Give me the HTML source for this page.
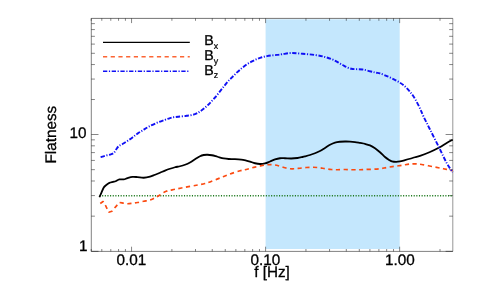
<!DOCTYPE html>
<html><head><meta charset="utf-8"><style>
html,body{margin:0;padding:0;background:#fff;}
svg{display:block;will-change:transform;}
text{font-family:"Liberation Sans",sans-serif;fill:#000;text-rendering:geometricPrecision;stroke:#000;stroke-width:0.3px;stroke-linejoin:round;}
</style></head><body>
<svg width="480" height="288" viewBox="0 0 480 288">
<rect width="480" height="288" fill="#fff"/>
<rect x="265.6" y="19.3" width="134.10" height="229.70" fill="#c4e7fd"/>
<path d="M91.3 18.4 H452.8" stroke="#000" stroke-width="0.55"/><path d="M91.3 251.4 H452.8" stroke="#000" stroke-width="0.5"/><path d="M91.3 18.4 V251.4" stroke="#000" stroke-width="0.5"/><path d="M452.8 18.4 V251.4" stroke="#000" stroke-width="0.42"/>
<path d="M91.20 251.40 v-2.40 M91.20 18.40 v2.40 M101.81 251.40 v-2.40 M101.81 18.40 v2.40 M110.79 251.40 v-2.40 M110.79 18.40 v2.40 M118.56 251.40 v-2.40 M118.56 18.40 v2.40 M125.42 251.40 v-2.40 M125.42 18.40 v2.40 M131.55 251.40 v-4.70 M131.55 18.40 v4.70 M171.90 251.40 v-2.40 M171.90 18.40 v2.40 M195.51 251.40 v-2.40 M195.51 18.40 v2.40 M212.26 251.40 v-2.40 M212.26 18.40 v2.40 M225.25 251.40 v-2.40 M225.25 18.40 v2.40 M235.86 251.40 v-2.40 M235.86 18.40 v2.40 M244.84 251.40 v-2.40 M244.84 18.40 v2.40 M252.61 251.40 v-2.40 M252.61 18.40 v2.40 M259.47 251.40 v-2.40 M259.47 18.40 v2.40 M265.60 251.40 v-4.70 M265.60 18.40 v4.70 M305.95 251.40 v-2.40 M305.95 18.40 v2.40 M329.56 251.40 v-2.40 M329.56 18.40 v2.40 M346.31 251.40 v-2.40 M346.31 18.40 v2.40 M359.30 251.40 v-2.40 M359.30 18.40 v2.40 M369.91 251.40 v-2.40 M369.91 18.40 v2.40 M378.89 251.40 v-2.40 M378.89 18.40 v2.40 M386.66 251.40 v-2.40 M386.66 18.40 v2.40 M393.52 251.40 v-2.40 M393.52 18.40 v2.40 M399.65 251.40 v-4.70 M399.65 18.40 v4.70 M440.00 251.40 v-2.40 M440.00 18.40 v2.40 M91.30 251.33 h7.20 M452.80 251.33 h-7.20 M91.30 216.16 h3.60 M452.80 216.16 h-3.60 M91.30 195.59 h3.60 M452.80 195.59 h-3.60 M91.30 180.99 h3.60 M452.80 180.99 h-3.60 M91.30 169.67 h3.60 M452.80 169.67 h-3.60 M91.30 160.42 h3.60 M452.80 160.42 h-3.60 M91.30 152.60 h3.60 M452.80 152.60 h-3.60 M91.30 145.82 h3.60 M452.80 145.82 h-3.60 M91.30 139.85 h3.60 M452.80 139.85 h-3.60 M91.30 134.50 h7.20 M452.80 134.50 h-7.20 M91.30 99.53 h3.60 M452.80 99.53 h-3.60 M91.30 79.07 h3.60 M452.80 79.07 h-3.60 M91.30 64.56 h3.60 M452.80 64.56 h-3.60 M91.30 53.30 h3.60 M452.80 53.30 h-3.60 M91.30 44.10 h3.60 M452.80 44.10 h-3.60 M91.30 36.32 h3.60 M452.80 36.32 h-3.60 M91.30 29.59 h3.60 M452.80 29.59 h-3.60 M91.30 23.65 h3.60 M452.80 23.65 h-3.60" fill="none" stroke="#000" stroke-width="0.48"/>
<path d="M99.5 195.7 H452.8" fill="none" stroke="#1c781c" stroke-width="1.6" stroke-dasharray="1.1 1.54"/>
<path d="M99.40 197.25 C99.71 196.56 100.53 194.72 101.25 193.10 C101.97 191.47 102.92 188.85 103.75 187.50 C104.58 186.15 105.31 185.77 106.25 185.00 C107.19 184.23 108.26 183.42 109.40 182.90 C110.54 182.38 112.07 182.18 113.10 181.90 C114.13 181.62 114.55 181.67 115.60 181.25 C116.65 180.83 118.04 179.71 119.40 179.40 C120.76 179.09 122.40 179.62 123.75 179.40 C125.10 179.18 126.04 178.52 127.50 178.10 C128.96 177.68 130.83 177.07 132.50 176.90 C134.17 176.73 135.62 176.96 137.50 177.10 C139.38 177.24 141.67 177.82 143.75 177.75 C145.83 177.68 148.12 177.20 150.00 176.70 C151.88 176.20 153.33 175.41 155.00 174.75 C156.67 174.09 158.33 173.44 160.00 172.75 C161.67 172.06 163.33 171.27 165.00 170.60 C166.67 169.93 168.33 169.31 170.00 168.75 C171.67 168.19 173.33 167.67 175.00 167.25 C176.67 166.83 178.33 166.67 180.00 166.25 C181.67 165.83 183.33 165.38 185.00 164.75 C186.67 164.12 188.33 163.41 190.00 162.50 C191.67 161.59 193.33 160.35 195.00 159.30 C196.67 158.25 198.54 156.92 200.00 156.20 C201.46 155.48 202.50 155.24 203.75 155.00 C205.00 154.76 206.14 154.71 207.50 154.75 C208.86 154.79 210.23 154.92 211.90 155.25 C213.57 155.58 215.53 156.22 217.50 156.75 C219.47 157.28 221.88 158.03 223.75 158.40 C225.62 158.78 226.88 158.88 228.75 159.00 C230.62 159.12 232.92 159.00 235.00 159.10 C237.08 159.20 239.38 159.35 241.25 159.60 C243.12 159.85 244.79 160.27 246.25 160.60 C247.71 160.93 248.54 161.16 250.00 161.60 C251.46 162.04 253.33 162.85 255.00 163.25 C256.67 163.65 258.33 163.97 260.00 164.00 C261.67 164.03 263.33 163.82 265.00 163.40 C266.67 162.98 268.33 162.17 270.00 161.50 C271.67 160.83 273.33 159.94 275.00 159.40 C276.67 158.86 278.33 158.44 280.00 158.25 C281.67 158.06 283.12 158.21 285.00 158.25 C286.88 158.29 289.17 158.54 291.25 158.50 C293.33 158.46 295.62 158.25 297.50 158.00 C299.38 157.75 301.25 157.27 302.50 157.00 C303.75 156.73 303.75 156.73 305.00 156.40 C306.25 156.07 308.33 155.53 310.00 155.00 C311.67 154.47 313.33 153.92 315.00 153.25 C316.67 152.58 318.33 151.89 320.00 151.00 C321.67 150.11 323.33 148.94 325.00 147.90 C326.67 146.86 328.33 145.63 330.00 144.75 C331.67 143.87 333.33 143.10 335.00 142.60 C336.67 142.10 338.33 141.93 340.00 141.75 C341.67 141.57 343.33 141.53 345.00 141.50 C346.67 141.47 348.33 141.51 350.00 141.60 C351.67 141.69 353.33 141.83 355.00 142.05 C356.67 142.28 358.33 142.64 360.00 142.95 C361.67 143.26 363.33 143.49 365.00 143.90 C366.67 144.31 368.33 144.68 370.00 145.40 C371.67 146.12 373.33 147.11 375.00 148.25 C376.67 149.39 378.33 150.79 380.00 152.25 C381.67 153.71 383.54 155.75 385.00 157.00 C386.46 158.25 387.60 159.02 388.75 159.75 C389.90 160.48 390.65 161.04 391.90 161.40 C393.15 161.76 394.90 161.90 396.25 161.90 C397.60 161.90 398.54 161.70 400.00 161.40 C401.46 161.10 403.33 160.54 405.00 160.10 C406.67 159.66 408.33 159.22 410.00 158.75 C411.67 158.28 413.33 157.72 415.00 157.25 C416.67 156.78 417.50 156.78 420.00 155.90 C422.50 155.03 426.80 153.40 430.00 152.00 C433.20 150.60 436.42 149.00 439.20 147.50 C441.98 146.00 444.45 144.30 446.70 143.00 C448.95 141.70 451.70 140.25 452.70 139.70" fill="none" stroke="#000" stroke-width="1.8" stroke-linejoin="round"/>
<path d="M100.25 203.50 L103.10 201.50 L105.60 205.60 L108.75 212.25 L111.90 211.25 L115.60 206.90 L119.40 202.50 C120.02 202.60 121.75 202.89 123.10 203.10 C124.45 203.31 125.93 203.72 127.50 203.75 C129.07 203.78 130.83 203.46 132.50 203.25 C134.17 203.04 135.62 202.83 137.50 202.50 C139.38 202.17 141.67 201.67 143.75 201.25 C145.83 200.83 148.29 200.49 150.00 200.00 C151.71 199.51 152.54 199.01 154.00 198.30 C155.46 197.59 156.71 196.93 158.75 195.75 C160.79 194.57 163.54 192.32 166.25 191.25 C168.96 190.18 171.88 189.96 175.00 189.30 C178.12 188.64 181.67 187.93 185.00 187.30 C188.33 186.67 192.50 185.95 195.00 185.50 C197.50 185.05 198.33 184.93 200.00 184.60 C201.67 184.27 203.33 183.95 205.00 183.50 C206.67 183.05 207.50 182.82 210.00 181.90 C212.50 180.98 216.67 179.32 220.00 178.00 C223.33 176.68 226.67 175.20 230.00 174.00 C233.33 172.80 237.50 171.51 240.00 170.80 C242.50 170.09 243.33 170.15 245.00 169.75 C246.67 169.35 248.33 168.84 250.00 168.40 C251.67 167.96 253.33 167.50 255.00 167.10 C256.67 166.70 258.33 166.33 260.00 166.00 C261.67 165.67 263.33 165.33 265.00 165.10 C266.67 164.87 268.33 164.62 270.00 164.60 C271.67 164.58 273.33 164.72 275.00 165.00 C276.67 165.28 278.33 165.79 280.00 166.25 C281.67 166.71 283.33 167.33 285.00 167.75 C286.67 168.17 288.33 168.58 290.00 168.75 C291.67 168.92 293.33 168.84 295.00 168.75 C296.67 168.66 298.12 168.41 300.00 168.20 C301.88 167.99 304.17 167.66 306.25 167.50 C308.33 167.34 310.42 167.23 312.50 167.25 C314.58 167.27 316.67 167.38 318.75 167.60 C320.83 167.82 322.92 168.28 325.00 168.60 C327.08 168.92 329.17 169.31 331.25 169.50 C333.33 169.69 335.21 169.75 337.50 169.75 C339.79 169.75 342.50 169.50 345.00 169.50 C347.50 169.50 350.00 169.71 352.50 169.75 C355.00 169.79 357.92 169.79 360.00 169.75 C362.08 169.71 362.92 169.58 365.00 169.50 C367.08 169.42 370.00 169.38 372.50 169.25 C375.00 169.12 377.71 169.03 380.00 168.75 C382.29 168.47 384.17 167.96 386.25 167.60 C388.33 167.24 390.42 166.91 392.50 166.60 C394.58 166.29 396.67 166.06 398.75 165.75 C400.83 165.44 403.12 165.03 405.00 164.75 C406.88 164.47 408.33 164.25 410.00 164.10 C411.67 163.95 413.05 163.78 415.00 163.85 C416.95 163.92 418.65 164.03 421.70 164.50 C424.75 164.97 429.70 166.00 433.30 166.70 C436.90 167.40 440.07 168.02 443.30 168.70 C446.53 169.38 451.13 170.45 452.70 170.80" fill="none" stroke="#fb4a10" stroke-width="1.65" stroke-dasharray="4.2 3.5" stroke-linejoin="round"/>
<path d="M100.60 157.10 C101.33 156.88 103.43 156.17 105.00 155.75 C106.57 155.33 108.54 155.06 110.00 154.60 C111.46 154.14 112.71 153.89 113.75 153.00 C114.79 152.11 115.42 150.40 116.25 149.25 C117.08 148.10 117.71 146.97 118.75 146.10 C119.79 145.22 121.04 144.87 122.50 144.00 C123.96 143.13 125.83 142.00 127.50 140.90 C129.17 139.80 130.83 138.62 132.50 137.40 C134.17 136.18 135.83 134.75 137.50 133.60 C139.17 132.45 140.70 131.62 142.50 130.50 C144.30 129.38 145.93 128.17 148.30 126.90 C150.67 125.63 153.92 124.08 156.70 122.90 C159.48 121.72 162.78 120.60 165.00 119.80 C167.22 119.00 168.62 118.52 170.00 118.10 C171.38 117.68 171.92 117.53 173.30 117.30 C174.68 117.07 176.07 116.95 178.30 116.70 C180.53 116.45 183.92 116.22 186.70 115.80 C189.48 115.38 192.50 115.12 195.00 114.20 C197.50 113.28 199.48 111.88 201.70 110.30 C203.92 108.72 206.08 106.83 208.30 104.70 C210.52 102.57 212.77 100.08 215.00 97.50 C217.23 94.92 219.60 91.83 221.70 89.20 C223.80 86.58 225.88 83.72 227.60 81.75 C229.32 79.78 230.43 78.96 232.00 77.40 C233.57 75.84 235.33 73.97 237.00 72.40 C238.67 70.83 240.33 69.36 242.00 68.00 C243.67 66.64 245.33 65.35 247.00 64.25 C248.67 63.15 250.33 62.27 252.00 61.40 C253.67 60.52 255.33 59.69 257.00 59.00 C258.67 58.31 260.33 57.73 262.00 57.25 C263.67 56.77 265.33 56.41 267.00 56.10 C268.67 55.79 270.33 55.60 272.00 55.40 C273.67 55.20 275.33 55.09 277.00 54.90 C278.67 54.71 279.62 54.57 282.00 54.25 C284.38 53.93 287.83 53.08 291.25 53.00 C294.67 52.92 298.54 53.42 302.50 53.75 C306.46 54.08 311.25 54.46 315.00 55.00 C318.75 55.54 321.88 56.17 325.00 57.00 C328.12 57.83 330.83 58.67 333.75 60.00 C336.67 61.33 339.58 63.54 342.50 65.00 C345.42 66.46 347.92 68.00 351.25 68.75 C354.58 69.50 358.54 68.88 362.50 69.50 C366.46 70.12 372.08 71.85 375.00 72.50 C377.92 73.15 377.78 72.70 380.00 73.40 C382.22 74.10 385.52 75.47 388.30 76.70 C391.08 77.93 394.20 79.42 396.70 80.80 C399.20 82.18 401.22 83.33 403.30 85.00 C405.38 86.67 407.38 88.72 409.20 90.80 C411.02 92.88 412.53 94.85 414.20 97.50 C415.87 100.15 417.68 103.62 419.20 106.70 C420.72 109.78 421.50 112.20 423.30 116.00 C425.10 119.80 427.33 124.17 430.00 129.50 C432.67 134.83 436.52 142.42 439.30 148.00 C442.08 153.58 444.47 158.95 446.70 163.00 C448.93 167.05 451.70 170.75 452.70 172.30" fill="none" stroke="#1010f5" stroke-width="1.9" stroke-dasharray="4.4 1.6 1.1 1.6" stroke-linejoin="round"/>
<!-- legend -->
<path d="M103 42.4 H189.8" stroke="#000" stroke-width="1.3"/>
<path d="M103 56.8 H189.8" stroke="#fb4a10" stroke-width="1.5" stroke-opacity="0.85" stroke-dasharray="4.2 3.5"/>
<path d="M103 71.2 H188.5" stroke="#1010f5" stroke-width="1.6" stroke-dasharray="4.3 1.6 1.2 1.6"/>
<text x="204.3" y="45.4" font-size="14.2">B<tspan font-size="8.8" dy="3.8" stroke-width="0.2">x</tspan></text>
<text x="204.3" y="59.8" font-size="14.2">B<tspan font-size="8.8" dy="3.8" stroke-width="0.2">y</tspan></text>
<text x="204.3" y="74.6" font-size="14.2">B<tspan font-size="8.8" dy="3.8" stroke-width="0.2">z</tspan></text>
<!-- axis labels -->
<text x="131.3" y="265" font-size="15.3" text-anchor="middle">0.01</text>
<text x="265.5" y="265" font-size="15.3" text-anchor="middle">0.10</text>
<text x="400" y="265" font-size="15.3" text-anchor="middle">1.00</text>
<text x="272" y="276.7" font-size="15.3" text-anchor="middle">f [Hz]</text>
<text x="86.4" y="137.8" font-size="15.3" text-anchor="end">10</text>
<text x="87.5" y="251" font-size="15.3" text-anchor="end">1</text>
<text transform="translate(55.9 134.7) rotate(-90)" font-size="15.3" text-anchor="middle">Flatness</text>
</svg>
</body></html>
